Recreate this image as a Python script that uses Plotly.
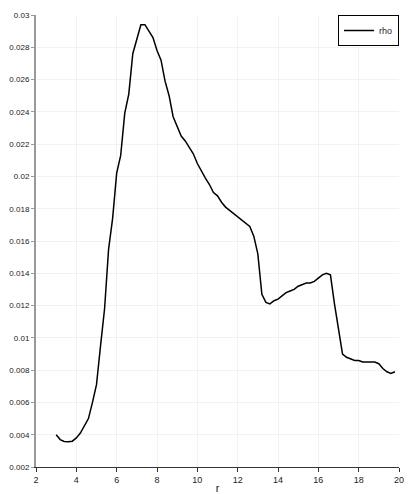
import plotly.graph_objects as go

r = [3.0, 3.2, 3.4, 3.6, 3.8, 4.0, 4.2, 4.4, 4.6, 4.8, 5.0, 5.2, 5.4, 5.6, 5.8,
     6.0, 6.2, 6.4, 6.6, 6.8, 7.0, 7.2, 7.4, 7.6, 7.8, 8.0, 8.2, 8.4, 8.6, 8.8,
     9.0, 9.2, 9.4, 9.6, 9.8, 10.0, 10.2, 10.4, 10.6, 10.8, 11.0, 11.2, 11.4, 11.6, 11.8,
     12.0, 12.2, 12.4, 12.6, 12.8, 13.0, 13.2, 13.4, 13.6, 13.8, 14.0, 14.2, 14.4, 14.6, 14.8,
     15.0, 15.2, 15.4, 15.6, 15.8, 16.0, 16.2, 16.4, 16.6, 16.8, 17.0, 17.2, 17.4, 17.6, 17.8,
     18.0, 18.2, 18.4, 18.6, 18.8, 19.0, 19.2, 19.4, 19.6, 19.8]
rho = [0.0040, 0.0037, 0.00358, 0.00356, 0.0036, 0.0038, 0.0041, 0.0046, 0.0050, 0.0060,
       0.0071, 0.0095, 0.0118, 0.0155, 0.0174, 0.0202, 0.0213, 0.0239, 0.0251, 0.0276,
       0.0285, 0.0294, 0.0294, 0.0290, 0.0286, 0.0278, 0.0272, 0.0259, 0.0250, 0.0237,
       0.0231, 0.0225, 0.0222, 0.0218, 0.0214, 0.0208, 0.0203, 0.0199, 0.0195, 0.0190,
       0.0188, 0.0184, 0.0181, 0.0179, 0.0177, 0.0175, 0.0173, 0.0171, 0.0169, 0.0163,
       0.0152, 0.0127, 0.0122, 0.0121, 0.0123, 0.0124, 0.0126, 0.0128, 0.0129, 0.0130,
       0.0132, 0.0133, 0.0134, 0.0134, 0.0135, 0.0137, 0.0139, 0.0140, 0.0139, 0.0121,
       0.0106, 0.0090, 0.0088, 0.0087, 0.0086, 0.0086, 0.0085, 0.0085, 0.0085, 0.0085,
       0.0084, 0.0081, 0.0079, 0.0078, 0.0079]

fig = go.Figure()
fig.add_trace(go.Scatter(x=r, y=rho, mode="lines", name="rho",
                         line=dict(color="black", width=1.5)))

fig.update_layout(
    width=407, height=486,
    margin=dict(l=28, r=16, t=7, b=27),
    paper_bgcolor="white", plot_bgcolor="white",
    font=dict(family="Liberation Sans, Arial, sans-serif", size=9, color="#222"),
    showlegend=True,
    legend=dict(x=1, y=1, xanchor="right", yanchor="top",
                bordercolor="black", borderwidth=1, bgcolor="white",
                font=dict(size=9), itemwidth=30, tracegroupgap=0),
    xaxis=dict(range=[2, 20], dtick=2, tick0=2, showgrid=True, gridcolor="#f2f2f2",
               showline=True, linecolor="#333", linewidth=1,
               ticks="outside", ticklen=4, tickcolor="#333", automargin=False,
               zeroline=False, title=dict(text="r", standoff=0)),
    yaxis=dict(range=[0.002, 0.03], dtick=0.002, tick0=0.002, showgrid=True,
               gridcolor="#f2f2f2", showline=True, linecolor="#999", linewidth=2,
               ticks="outside", ticklen=3, tickcolor="#999", zeroline=False,
               tickfont=dict(size=8), automargin=False),
)

fig.write_html("out.html")
